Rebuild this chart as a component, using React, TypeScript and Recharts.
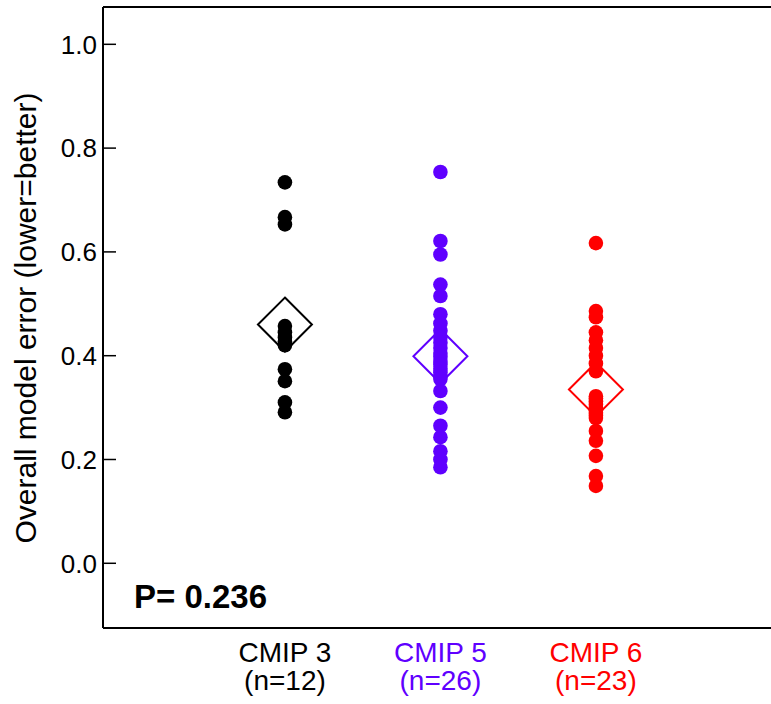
import React from 'react';
import { ScatterChart, Scatter, XAxis, YAxis, ReferenceLine } from 'recharts';

const categories = ['CMIP 3', 'CMIP 5', 'CMIP 6'];
const counts = ['(n=12)', '(n=26)', '(n=23)'];
const colors = ['#000000', '#5F00FF', '#FF0000'];

const cmip3 = [0.734, 0.667, 0.653, 0.457, 0.445, 0.435, 0.428, 0.42, 0.374, 0.351, 0.31, 0.291];
const cmip5 = [
  0.754, 0.621, 0.595, 0.537, 0.515, 0.48, 0.462, 0.448, 0.435, 0.425, 0.415, 0.405, 0.398,
  0.39, 0.383, 0.375, 0.368, 0.36, 0.355, 0.332, 0.3, 0.265, 0.243, 0.216, 0.2, 0.185,
];
const cmip6 = [
  0.617, 0.486, 0.474, 0.445, 0.43, 0.415, 0.4, 0.385, 0.37, 0.322, 0.318, 0.312, 0.306,
  0.3, 0.295, 0.29, 0.285, 0.28, 0.255, 0.236, 0.207, 0.168, 0.149,
];
const means = [0.46, 0.399, 0.335];
const yTicks = [0, 0.2, 0.4, 0.6, 0.8, 1.0];
const pLabel = 'P= 0.236';
const yLabel = 'Overall model error (lower=better)';

const groups = [cmip3, cmip5, cmip6];
const X_DOMAIN: [number, number] = [-0.17, 4.126];
const Y_DOMAIN: [number, number] = [-0.1247, 1.0719];
const FONT = '"Liberation Sans", Arial, Helvetica, sans-serif';

const makeDot = (color: string) => (props: any) => (
  <circle cx={props.cx} cy={props.cy} r={7.3} fill={color} />
);
const makeDiamond = (color: string) => (props: any) => {
  const { cx, cy } = props;
  const h = 27;
  return (
    <path
      d={`M${cx},${cy - h} L${cx + h},${cy} L${cx},${cy + h} L${cx - h},${cy} Z`}
      fill="none"
      stroke={color}
      strokeWidth={2}
    />
  );
};

const XTick = (props: any) => {
  const { x, y, payload } = props;
  const i = Math.round(payload.value) - 1;
  if (i < 0 || i > 2) return null;
  return (
    <text x={x} y={y + 34} textAnchor="middle" fill={colors[i]} fontSize={28} fontFamily={FONT}>
      <tspan x={x} dy={0}>{categories[i]}</tspan>
      <tspan x={x} dy={28}>{counts[i]}</tspan>
    </text>
  );
};

export default function App() {
  return (
    <div style={{ position: 'absolute', left: 0, top: 0, width: 771, height: 704, background: '#fff' }}>
      <ScatterChart width={771} height={704} margin={{ top: 7, right: 0, bottom: 0, left: 0 }}>
        <XAxis
          type="number"
          dataKey="x"
          domain={X_DOMAIN}
          allowDataOverflow
          ticks={[1, 2, 3]}
          tick={<XTick />}
          tickLine={false}
          tickSize={0}
          tickMargin={0}
          height={76}
          axisLine={{ stroke: '#000', strokeWidth: 2 }}
        />
        <YAxis
          type="number"
          dataKey="y"
          domain={Y_DOMAIN}
          allowDataOverflow
          ticks={yTicks}
          tickFormatter={(v: number) => v.toFixed(1)}
          width={103}
          tickSize={-13}
          tickMargin={19}
          tick={{ fill: '#000', fontSize: 26, fontFamily: FONT }}
          tickLine={{ stroke: '#000', strokeWidth: 1.5 }}
          axisLine={{ stroke: '#000', strokeWidth: 2 }}
          label={{
            content: () => (
              <text
                transform="translate(36,318) rotate(-90)"
                textAnchor="middle"
                fontSize={30}
                fontFamily={FONT}
                fill="#000"
              >
                {yLabel}
              </text>
            ),
          }}
        />
        <ReferenceLine y={Y_DOMAIN[1]} stroke="#000" strokeWidth={2} />
        {means.map((m, i) => (
          <Scatter
            key={'m' + i}
            data={[{ x: i + 1, y: m }]}
            shape={makeDiamond(colors[i])}
            isAnimationActive={false}
          />
        ))}
        {groups.map((g, i) => (
          <Scatter
            key={'g' + i}
            data={g.map((v) => ({ x: i + 1, y: v }))}
            shape={makeDot(colors[i])}
            isAnimationActive={false}
          />
        ))}
      </ScatterChart>
      <div
        style={{
          position: 'absolute',
          left: 134,
          top: 579,
          fontFamily: FONT,
          fontWeight: 'bold',
          fontSize: 33,
          lineHeight: '36px',
          color: '#000',
          whiteSpace: 'nowrap',
        }}
      >
        {pLabel}
      </div>
    </div>
  );
}
